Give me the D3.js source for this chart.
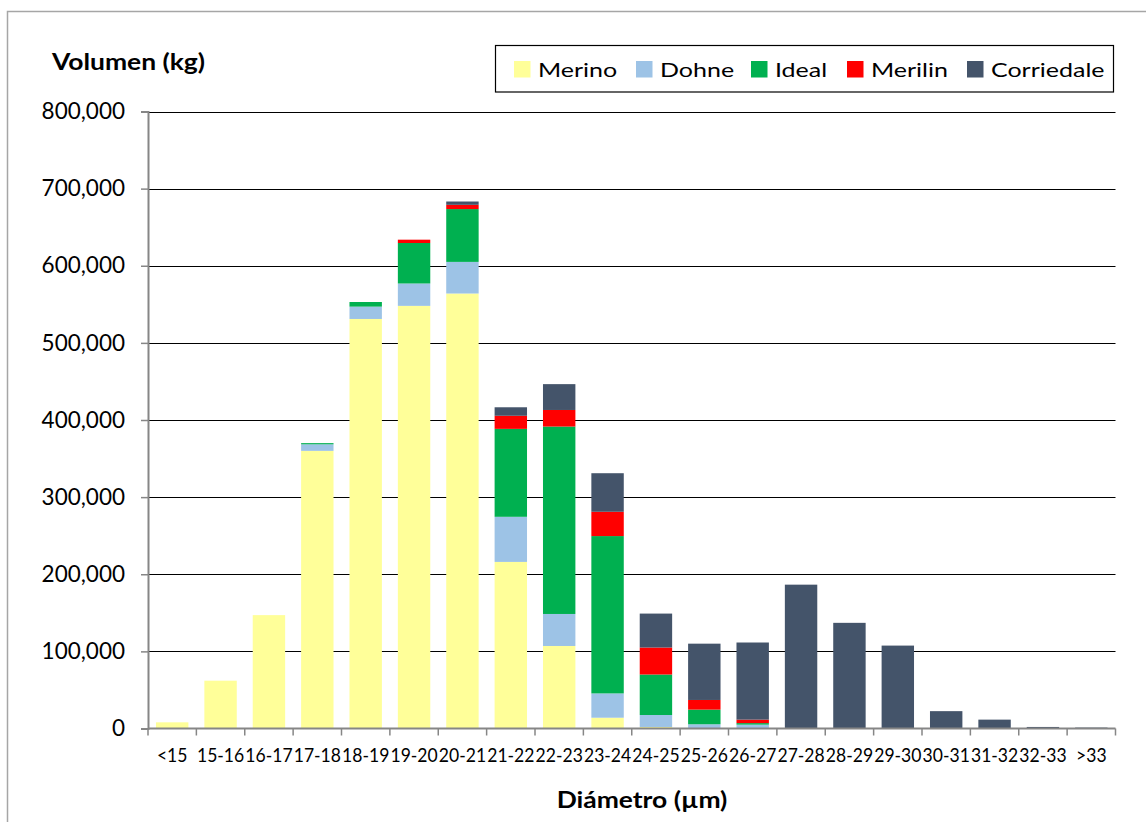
<!DOCTYPE html>
<html>
<head>
<meta charset="utf-8">
<script src="https://cdn.jsdelivr.net/npm/d3@7"></script>
<style>
  html, body { margin: 0; padding: 0; background: #fff; }
  svg { display: block; font-family: Lato, "Open Sans", sans-serif; }
</style>
</head>
<body>
<svg id="chart" width="1146" height="822"></svg>
<script>
// Wool volume by fibre diameter, stacked by breed
const categories = ["<15","15-16","16-17","17-18","18-19","19-20","20-21","21-22","22-23","23-24",
                    "24-25","25-26","26-27","27-28","28-29","29-30","30-31","31-32","32-33",">33"];
const seriesNames = ["Merino","Dohne","Ideal","Merilin","Corriedale"];
const merino     = [8000, 62000, 147000, 360000, 531000, 548000, 564000, 216000, 107000, 14000, 2000, 0, 0, 0, 0, 0, 0, 0, 0, 0];
const dohne      = [0, 0, 0, 8500, 16000, 29000, 41000, 58500, 41500, 31500, 15500, 5500, 5000, 0, 0, 0, 0, 0, 0, 0];
const ideal      = [0, 0, 0, 1500, 6000, 52500, 68500, 114000, 243000, 204000, 52500, 19000, 2000, 0, 0, 0, 0, 0, 0, 0];
const merilin    = [0, 0, 0, 0, 0, 4300, 5500, 17000, 21500, 31500, 35000, 12500, 4500, 0, 0, 0, 0, 0, 0, 0];
const corriedale = [0, 0, 0, 0, 0, 0, 4300, 11000, 33500, 50000, 44000, 73000, 100000, 186500, 137000, 107500, 22500, 11500, 2000, 1200];
const yTicks = [0, 100000, 200000, 300000, 400000, 500000, 600000, 700000, 800000];
const colors = ["#FFFF99", "#9DC3E6", "#00B050", "#FF0000", "#44546A"];

const seriesValues = [merino, dohne, ideal, merilin, corriedale];
const rows = categories.map((c, i) => {
  const r = { cat: c };
  seriesNames.forEach((s, k) => { r[s] = seriesValues[k][i]; });
  return r;
});

const svg = d3.select("#chart");
const plot = { left: 148, right: 1115.5, top: 111.5, bottom: 728.5 };

// Outer frame
svg.append("rect")
  .attr("x", 7.5).attr("y", 11.5).attr("width", 1160).attr("height", 840)
  .attr("fill", "none").attr("stroke", "#a6a6a6").attr("stroke-width", 1.5);

const x = d3.scaleBand().domain(categories)
  .range([plot.left, plot.right]).paddingInner(0.33).paddingOuter(0.165);
const y = d3.scaleLinear().domain([0, 800000]).range([plot.bottom, plot.top]);

// Horizontal gridlines
svg.append("g").selectAll("line").data(yTicks.slice(1)).join("line")
  .attr("x1", plot.left).attr("x2", plot.right)
  .attr("y1", d => Math.round(y(d)) + 0.5).attr("y2", d => Math.round(y(d)) + 0.5)
  .attr("stroke", "#000").attr("stroke-width", 1);

// Stacked bars
const stack = d3.stack().keys(seriesNames)(rows);
svg.append("g").selectAll("g").data(stack).join("g")
  .attr("fill", (d, i) => colors[i])
  .selectAll("rect").data(d => d.filter(p => p[1] - p[0] > 0)).join("rect")
  .attr("x", d => x(d.data.cat))
  .attr("width", x.bandwidth())
  .attr("y", d => y(d[1]))
  .attr("height", d => y(d[0]) - y(d[1]));

// Y axis
const yAxis = d3.axisLeft(y).tickValues(yTicks).tickFormat(d3.format(",")).tickSize(7).tickPadding(16);
const gy = svg.append("g").attr("transform", `translate(${plot.left},0)`).call(yAxis);
gy.select(".domain").attr("stroke", "#868686").attr("stroke-width", 2);
gy.selectAll(".tick line").attr("stroke", "#868686").attr("stroke-width", 1.5);
gy.selectAll(".tick text").attr("fill", "#000").attr("font-size", 22.5).attr("font-family", "Lato");

// X axis: ticks between categories
const xAxisG = svg.append("g");
xAxisG.append("line")
  .attr("x1", plot.left).attr("x2", plot.right)
  .attr("y1", plot.bottom).attr("y2", plot.bottom)
  .attr("stroke", "#868686").attr("stroke-width", 2);
const step = x.step();
const boundaries = d3.range(categories.length + 1).map(i => plot.left + i * step);
xAxisG.selectAll("line.tk").data(boundaries).join("line").attr("class", "tk")
  .attr("x1", d => d).attr("x2", d => d)
  .attr("y1", plot.bottom).attr("y2", plot.bottom + 7)
  .attr("stroke", "#868686").attr("stroke-width", 1.5);
xAxisG.selectAll("text").data(categories).join("text")
  .attr("transform", d => `translate(${x(d) + x.bandwidth() / 2},762) scale(0.9,1)`)
  .attr("text-anchor", "middle")
  .attr("font-size", 19.5)
  .attr("fill", "#000")
  .text(d => d);

// Axis titles
svg.append("text").attr("transform", "translate(52,70) scale(1.15,1)")
  .attr("font-size", 23).attr("font-weight", "bold").attr("fill", "#000")
  .text("Volumen (kg)");
svg.append("text").attr("transform", "translate(642,808) scale(1.15,1)").attr("text-anchor", "middle")
  .attr("font-size", 23).attr("font-weight", "bold").attr("fill", "#000")
  .text("Diámetro (µm)");

// Legend
const legend = svg.append("g");
legend.append("rect")
  .attr("x", 495.5).attr("y", 45.5).attr("width", 618).attr("height", 46.5)
  .attr("fill", "#fff").attr("stroke", "#000").attr("stroke-width", 1.2);
const legendX = [514, 636, 751, 847, 967];
const items = legend.selectAll("g.item").data(seriesNames).join("g").attr("class", "item")
  .attr("transform", (d, i) => `translate(${legendX[i]},0)`);
items.append("rect").attr("x", 0).attr("y", 61).attr("width", 16.5).attr("height", 16.5)
  .attr("fill", (d, i) => colors[i]);
items.append("text").attr("transform", "translate(24,77) scale(1.25,1)")
  .attr("font-size", 20).attr("fill", "#000").text(d => d);
</script>
</body>
</html>
